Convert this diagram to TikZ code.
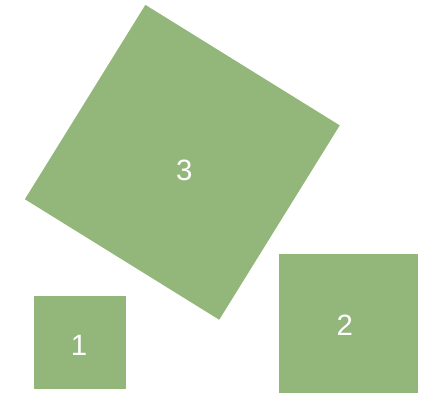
\documentclass[tikz,border=0pt]{standalone}
\usepackage{fontspec}
\setmainfont{Liberation Sans}
\definecolor{boxgreen}{RGB}{147,183,123}
\begin{document}
\begin{tikzpicture}[x=1bp, y=-1bp,
  box/.style={fill=boxgreen, inner sep=0pt},
  num/.style={text=white, inner sep=0pt, font=\fontsize{29.5}{31}\selectfont}]
\useasboundingbox (0,0) rectangle (436,403);
% turned square
\node[box, minimum size=228.7bp, rotate=-31.8] (sq3) at (182.3,162.3) {};
\node[num] (n3) at (184.3,170.5) {3};
% small squares
\node[box, minimum width=92.3bp, minimum height=92.7bp] (sq1) at (80.2,342.4) {};
\node[num] (n1) at (79,345.5) {1};
\node[box, minimum width=139bp, minimum height=138.4bp] (sq2) at (348.8,323.5) {};
\node[num] (n2) at (344.7,325.5) {2};
\end{tikzpicture}
\end{document}
